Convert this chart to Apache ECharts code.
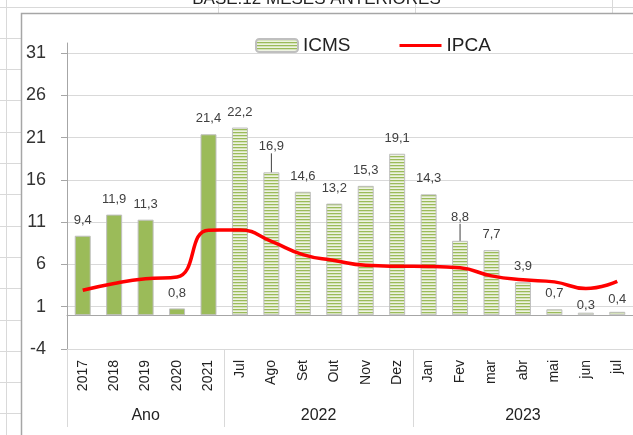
<!DOCTYPE html>
<html>
<head>
<meta charset="utf-8">
<title>ICMS x IPCA</title>
<script src="https://cdn.jsdelivr.net/npm/echarts@6/dist/echarts.min.js"></script>
<style>
	*{
		margin:0;
		padding:0;
	}
	body{
		background:#fff;
	}
	#chart{
		width:633px;
		height:435px;
	}
</style>
</head>
<body>
<div id="chart"></div>
<script>
// categorias do eixo x (nivel 1)
var categorias = ['2017','2018','2019','2020','2021','Jul','Ago','Set','Out','Nov','Dez','Jan','Fev','mar','abr','mai','jun','jul'];
// nivel 2 do eixo: grupos e quantas categorias cada um cobre
var grupos = ['Ano','2022','2023'];
var tamanhoGrupo = [5, 6, 7];
// variacao acumulada 12 meses (%)
var icms = [9.4, 11.9, 11.3, 0.8, 21.4, 22.2, 16.9, 14.6, 13.2, 15.3, 19.1, 14.3, 8.8, 7.7, 3.9, 0.7, 0.3, 0.4];
var ipca = [2.95, 3.75, 4.31, 4.52, 10.06, 10.07, 8.73, 7.17, 6.47, 5.90, 5.79, 5.77, 5.60, 4.65, 4.18, 3.94, 3.16, 3.99];
// marcas do eixo y
var ticksY = [-4, 1, 6, 11, 16, 21, 26, 31];

// rotulos que o excel deslocou (indice: dy em px); os deslocados para cima ganham linha guia
var ajusteRotulo = {6: -10, 12: -8, 16: 8, 17: 3};

// limites e centros dos grupos, em unidades de categoria
var limites = [0];
var centros = [];
for (var i = 0; i < tamanhoGrupo.length; i++) {
	centros.push(limites[i] + tamanhoGrupo[i] / 2);
	limites.push(limites[i] + tamanhoGrupo[i]);
}

// preenchimento listrado (linhas horizontais) das barras mensais
function listrado(){
	var c = document.createElement('canvas');
	c.width = 4;
	c.height = 3;
	var ctx = c.getContext('2d');
	ctx.fillStyle = '#d6e3bc';
	ctx.fillRect(0, 0, 4, 3);
	ctx.fillStyle = '#eef3e2';
	ctx.fillRect(0, 2, 4, 1);
	ctx.fillStyle = '#9bbb59';
	ctx.fillRect(0, 0, 4, 1);
	return c;
}
var padrao = {image: listrado(), repeat: 'repeat'};

// linhas da planilha atras do grafico
var fundo = [];
for (var y = 6.5; y < 435; y += 31.3) {
	fundo.push({type:'line', shape:{x1:0, y1:Math.round(y)+0.5, x2:y < 10 ? 633 : 21, y2:Math.round(y)+0.5}, style:{stroke:'#d9d9d9', lineWidth:1}, z:-20});
}
[6.5, 218.5, 415.5, 612.5].forEach(function(x){
	fundo.push({type:'line', shape:{x1:x, y1:0, x2:x, y2:x < 10 ? 435 : 13}, style:{stroke:'#d9d9d9', lineWidth:1}, z:-20});
});
// moldura do grafico
fundo.push({type:'rect', shape:{x:21.5, y:13.5, width:700, height:500}, style:{fill:'#fff', stroke:'#a6a6a6', lineWidth:1.5}, z:-10});

var myChart = echarts.init(document.getElementById('chart'));
var option = {
	textStyle: {fontFamily: 'Liberation Sans'},
	graphic: fundo,
	title: {
		text: 'BASE:12 MESES ANTERIORES',
		left: 'center',
		top: -14,
		textStyle: {fontSize: 17, fontWeight: 'normal', color: '#222'}
	},
	legend: {
		data: [
			{name: 'ICMS'},
			{name: 'IPCA', icon: 'path://M0,0 L44,0 L44,3 L0,3 Z'}
		],
		left: 250,
		top: 31,
		itemWidth: 42,
		itemHeight: 13,
		itemGap: 49,
		textStyle: {fontSize: 19, color: '#222'}
	},
	grid: {left: 67, top: 43, width: 568, height: 306},
	xAxis: [
		{
			type: 'category',
			data: categorias,
			axisLine: {onZero: true, lineStyle: {color: '#a6a6a6'}},
			axisTick: {interval: 0, length: 6, lineStyle: {color: '#a6a6a6'}},
			axisLabel: {show: false},
			splitLine: {show: false}
		},
		{
			type: 'category',
			data: categorias,
			position: 'bottom',
			axisLine: {onZero: false, lineStyle: {color: '#d9d9d9'}},
			axisTick: {interval: 0, length: 45, lineStyle: {color: '#d9d9d9'}},
			axisLabel: {interval: 0, rotate: 90, margin: 11, fontSize: 14, color: '#222'},
			splitLine: {show: false}
		},
		{
			type: 'value',
			min: 0,
			max: categorias.length,
			position: 'bottom',
			axisLine: {show: false, onZero: false},
			splitLine: {show: false},
			axisTick: {customValues: limites, length: 78, lineStyle: {color: '#d9d9d9'}},
			axisLabel: {
				customValues: centros,
				margin: 59,
				fontSize: 16,
				color: '#222',
				formatter: function(v){ return grupos[centros.indexOf(v)]; }
			}
		}
	],
	yAxis: {
		type: 'value',
		min: -4,
		max: 32.2,
		axisLine: {show: true, onZero: false, lineStyle: {color: '#a6a6a6'}},
		axisTick: {show: true, length: 6, customValues: ticksY, lineStyle: {color: '#a6a6a6'}},
		axisLabel: {customValues: ticksY, margin: 21, fontSize: 18, color: '#333'},
		splitLine: {lineStyle: {color: '#d9d9d9'}}
	},
	series: [
		{
			name: 'ICMS',
			type: 'bar',
			xAxisIndex: 0,
			barWidth: 16,
			itemStyle: {color: padrao, borderColor: '#bfbfbf', borderWidth: 1},
			data: icms.map(function(v, i){
				var item = {value: v};
				if (i < tamanhoGrupo[0]) item.itemStyle = {color: '#9bbb59'};
				if (ajusteRotulo[i] < 0) item.labelLine = {show: true};
				return item;
			}),
			label: {
				show: true,
				position: 'top',
				distance: 9,
				fontSize: 13,
				color: '#404040',
				formatter: function(p){ return String(p.value).replace('.', ','); }
			},
			labelLine: {show: false, lineStyle: {color: '#404040', width: 1}},
			labelLayout: function(p){
				return {dy: ajusteRotulo[p.dataIndex] || 0};
			}
		},
		{
			name: 'IPCA',
			type: 'line',
			xAxisIndex: 0,
			data: ipca,
			smooth: 0.5,
			symbol: 'none',
			lineStyle: {color: '#ff0000', width: 3.5},
			itemStyle: {color: '#ff0000'},
			z: 5
		}
	]
};
myChart.setOption(option);
</script>
</body>
</html>
